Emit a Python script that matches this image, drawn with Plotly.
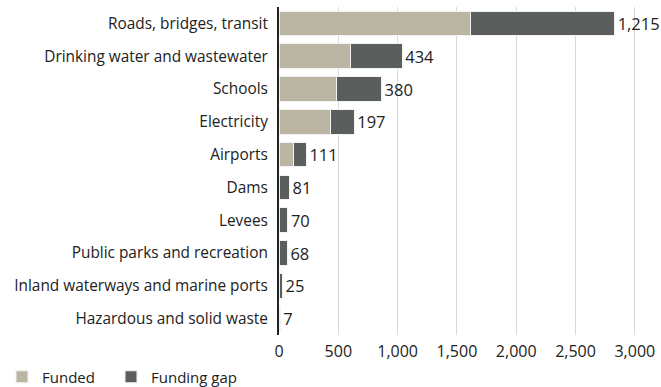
import plotly.graph_objects as go

# Infrastructure investment needs, by sector (values in billions)
categories = [
    "Roads, bridges, transit",
    "Drinking water and wastewater",
    "Schools",
    "Electricity",
    "Airports",
    "Dams",
    "Levees",
    "Public parks and recreation",
    "Inland waterways and marine ports",
    "Hazardous and solid waste",
]
funded = [1615, 605, 485, 437, 120, 8, 5, 3, 5, 3]
funding_gap = [1215, 434, 380, 197, 111, 81, 70, 68, 25, 7]
x_ticks = [0, 500, 1000, 1500, 2000, 2500, 3000]

FUNDED_COLOR = "#bbb5a4"
GAP_COLOR = "#5a5e5c"
TEXT_COLOR = "#222222"
FONT = "Open Sans"
W, H = 661, 387

fig = go.Figure()
fig.add_trace(go.Bar(
    y=categories, x=funded, orientation="h", name="Funded",
    marker=dict(color=FUNDED_COLOR, line=dict(color="#f2f2f2", width=1)),
    legend="legend",
))
fig.add_trace(go.Bar(
    y=categories, x=funding_gap, orientation="h", name="Funding gap",
    marker=dict(color=GAP_COLOR, line=dict(color="#f2f2f2", width=1)),
    text=[f"{v:,}" for v in funding_gap], textposition="outside",
    textfont=dict(size=16.5, color=TEXT_COLOR, family=FONT),
    constraintext="none",
    cliponaxis=False,
    legend="legend2",
))

legend_common = dict(
    orientation="h", xref="container", yref="container",
    y=1 - 377 / H, xanchor="left", yanchor="middle",
    font=dict(size=15, color=TEXT_COLOR), itemwidth=30,
    bgcolor="rgba(0,0,0,0)",
)

fig.update_layout(
    barmode="stack",
    bargap=0.25,
    width=W, height=H,
    margin=dict(l=279, r=25, t=7, b=52, autoexpand=False),
    paper_bgcolor="white", plot_bgcolor="white",
    font=dict(family=FONT, size=15, color=TEXT_COLOR),
    showlegend=True,
    legend=dict(legend_common, x=2 / W),
    legend2=dict(legend_common, x=111 / W),
    xaxis=dict(
        range=[0, 3010], tickvals=x_ticks, tickformat=",",
        showgrid=True, gridcolor="#d9d9d9", gridwidth=1,
        zeroline=False, showline=False, ticks="",
        ticklabelstandoff=5,
        tickfont=dict(size=16, color=TEXT_COLOR),
    ),
    yaxis=dict(
        autorange="reversed", showline=True, linecolor="#222222", linewidth=2,
        ticks="", showgrid=False, ticklabelstandoff=6,
        tickfont=dict(size=15.4, color=TEXT_COLOR),
    ),
)

fig.write_html("out.html")
